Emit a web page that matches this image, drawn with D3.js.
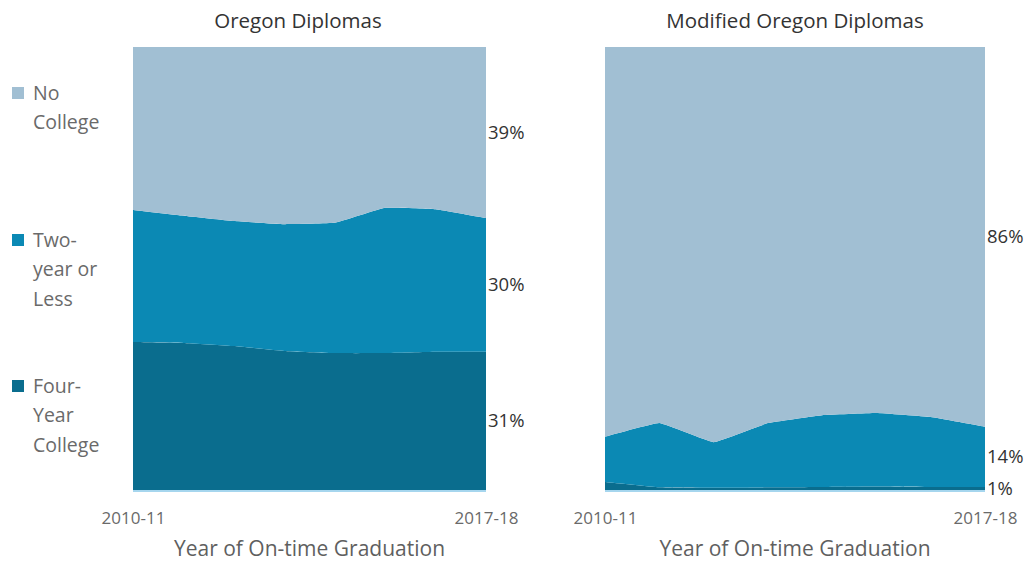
<!DOCTYPE html>
<html>
<head>
<meta charset="utf-8">
<script src="https://cdn.jsdelivr.net/npm/d3@7"></script>
<style>
  html, body { margin: 0; padding: 0; background: #fff; }
  svg { display: block; font-family: "Open Sans", Lato, sans-serif; }
</style>
</head>
<body>
<svg id="chart" width="1031" height="561"></svg>
<script>
// ---- data ----
const years = ["2010-11","2011-12","2012-13","2013-14","2014-15","2015-16","2016-17","2017-18"];
const tickLabels = ["2010-11","2017-18"];
const seriesKeys = ["four","two","none"];
const seriesNames = ["No College","Two-year or Less","Four-Year College"];

// Oregon Diplomas (percent)
const odFour = [33.4, 33.2, 32.5, 31.4, 30.9, 30.9, 31.2, 31.2];
const odTwo  = [29.8, 28.7, 28.2, 28.6, 29.4, 32.8, 32.2, 30.2];
const odNone = [36.8, 38.1, 39.3, 40.0, 39.7, 36.3, 36.6, 38.6];
const odLabels = ["31%","30%","39%"];

// Modified Oregon Diplomas (percent)
const modFour = [1.8, 0.6, 0.5, 0.6, 0.7, 0.8, 0.7, 0.7];
const modTwo  = [10.2, 14.5, 10.3, 14.5, 16.2, 16.6, 15.8, 13.6];
const modNone = [88.0, 84.9, 89.2, 84.9, 83.1, 82.6, 83.5, 85.7];
const modLabels = ["1%","14%","86%"];

const colors = {none: "#a1bfd3", two: "#0b89b4", four: "#0a6d8e"};

const svg = d3.select("#chart");

function panel(cfg) {
  const rows = years.map((y, i) => ({year: y, four: cfg.four[i], two: cfg.two[i], none: cfg.none[i]}));
  const stack = d3.stack().keys(seriesKeys)(rows);
  const x = d3.scalePoint().domain(years).range([cfg.x0, cfg.x1]);
  const y = d3.scaleLinear().domain([0, 100]).range([490, 47]);
  const area = d3.area()
    .x(d => x(d.data.year))
    .y0(d => y(d[0]))
    .y1(d => y(d[1]))
    .curve(d3.curveCardinal.tension(0.75));
  const g = svg.append("g");
  g.selectAll("path.layer").data(stack).join("path")
    .attr("class", "layer")
    .attr("fill", d => colors[d.key])
    .attr("d", area);

  // baseline axis line
  g.append("line")
    .attr("x1", cfg.x0).attr("x2", cfg.x1)
    .attr("y1", y(0) + 1).attr("y2", y(0) + 1)
    .attr("stroke", "#a6d6ee").attr("stroke-width", 2);

  // end labels
  const last = years.length - 1;
  stack.forEach((s, i) => {
    const mid = (y(s[last][0]) + y(s[last][1])) / 2;
    g.append("text")
      .attr("x", cfg.x1 + 2)
      .attr("y", Math.min(mid, 490))
      .attr("dy", "0.35em")
      .attr("font-size", 18.5)
      .attr("fill", "#333")
      .text(cfg.labels[i]);
  });

  // x axis ticks (endpoints only)
  const axis = d3.axisBottom(x).tickValues(tickLabels).tickSize(0).tickPadding(0);
  const ag = g.append("g").attr("transform", "translate(0,518)").call(axis);
  ag.select(".domain").remove();
  ag.selectAll("text")
    .attr("font-size", 17)
    .attr("font-family", "'Open Sans', Lato, sans-serif")
    .attr("fill", "#6a6a6a")
    .attr("dy", "0.35em")
    .attr("y", 0);

  // axis title
  g.append("text")
    .attr("x", (cfg.x0 + cfg.x1) / 2)
    .attr("y", 549)
    .attr("dy", "0.35em")
    .attr("text-anchor", "middle")
    .attr("font-size", 21)
    .attr("fill", "#5f5f5f")
    .text("Year of On-time Graduation");

  // title
  g.append("text")
    .attr("x", cfg.titleX)
    .attr("y", 21)
    .attr("dy", "0.35em")
    .attr("text-anchor", "middle")
    .attr("font-size", 20.5)
    .attr("fill", "#333")
    .text(cfg.title);
}

panel({x0: 133, x1: 486, four: odFour, two: odTwo, none: odNone, labels: odLabels,
       title: "Oregon Diplomas", titleX: 298});
panel({x0: 605, x1: 985, four: modFour, two: modTwo, none: modNone, labels: modLabels,
       title: "Modified Oregon Diplomas", titleX: 795});

// legend
const legendItems = [
  {key: "none", lines: ["No", "College"], y: 93},
  {key: "two", lines: ["Two-", "year or", "Less"], y: 240},
  {key: "four", lines: ["Four-", "Year", "College"], y: 386}
];
const lg = svg.append("g");
legendItems.forEach(it => {
  lg.append("rect")
    .attr("x", 12).attr("y", it.y - 6)
    .attr("width", 12).attr("height", 12)
    .attr("fill", colors[it.key]);
  const t = lg.append("text")
    .attr("x", 33).attr("y", it.y)
    .attr("font-size", 19.5)
    .attr("fill", "#6a6a6a");
  it.lines.forEach((l, i) => {
    t.append("tspan").attr("x", 33).attr("y", it.y + i * 29.5).attr("dy", "0.35em").text(l);
  });
});
</script>
</body>
</html>
